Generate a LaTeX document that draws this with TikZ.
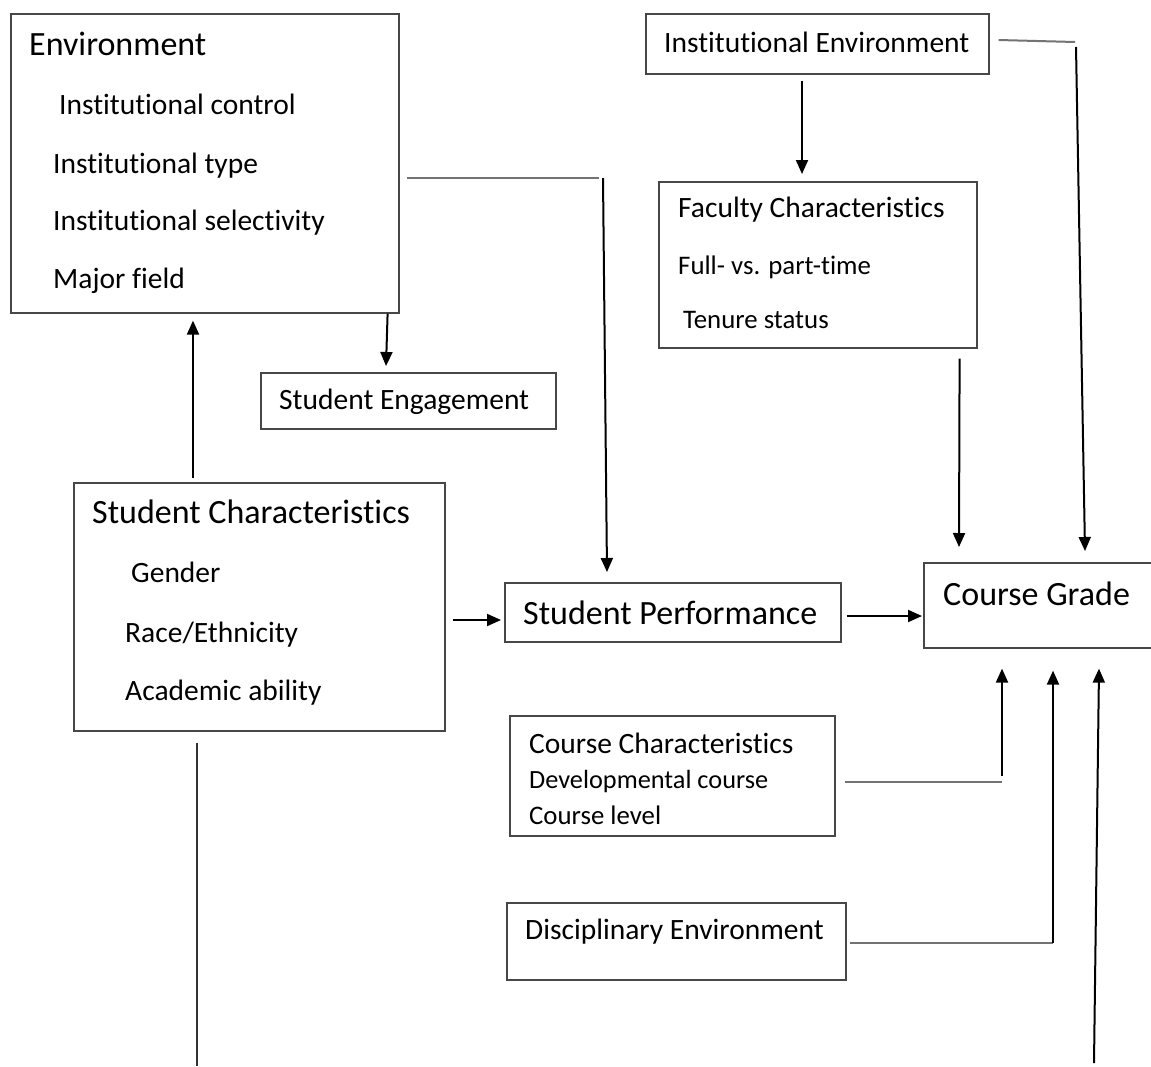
\documentclass[tikz,border=0pt]{standalone}
\usepackage{fontspec}
\setmainfont{Carlito}[Ligatures={NoCommon}]
\usetikzlibrary{arrows.meta,calc}
\begin{document}
\begin{tikzpicture}[x=1pt,y=-1pt,
  boxnode/.style={draw=black!72,line width=1.6pt,rectangle,inner sep=0pt,anchor=north west},
  txt/.style={inner sep=0pt,anchor=base west,font=\fontsize{29.5}{29.5}\selectfont},
  bigtxt/.style={inner sep=0pt,anchor=base west,font=\fontsize{34}{34}\selectfont},
  smtxt/.style={inner sep=0pt,anchor=base west,font=\fontsize{26.8}{26.8}\selectfont},
  gline/.style={draw=black!55,line width=2pt},
  dline/.style={draw=black!80,line width=2pt},
  arr/.style={draw=black,line width=2pt,-{Triangle[width=12pt,length=14pt]}}]
\useasboundingbox (0,0) rectangle (1151,1066);
\clip (0,0) rectangle (1151,1066);
\fill[white] (0,0) rectangle (1151,1066);

% boxes
\node[boxnode,minimum width=388pt,minimum height=299pt] (env) at (10,13) {};
\node[boxnode,minimum width=295pt,minimum height=56pt] (eng) at (260,372) {};
\node[boxnode,minimum width=343pt,minimum height=60pt] (ie) at (645,13) {};
\node[boxnode,minimum width=318pt,minimum height=166pt] (fac) at (658,181) {};
\node[boxnode,minimum width=371pt,minimum height=248pt] (sch) at (73,482) {};
\node[boxnode,minimum width=336pt,minimum height=59pt] (sp) at (504,582) {};
\node[boxnode,minimum width=250pt,minimum height=85pt] (cg) at (923,562) {};
\node[boxnode,minimum width=325pt,minimum height=120pt] (cc) at (509,715) {};
\node[boxnode,minimum width=339pt,minimum height=77pt] (de) at (506,902) {};

% texts
\node[bigtxt] (t1) at (29,55) {Environment};
\node[txt] (t2) at (59,114) {Institutional control};
\node[txt] (t3) at (53,173) {Institutional type};
\node[txt] (t4) at (53,230) {Institutional selectivity};
\node[txt] (t5) at (53,288) {Major field};
\node[txt] (t6) at (279,409) {Student Engagement};
\node[txt] (t7) at (664,52) {Institutional Environment};
\node[txt] (t8) at (678,217) {Faculty Characteristics};
\node[smtxt] (t9) at (678,274) {Full- vs. part-time};
\node[smtxt] (t10) at (683,328) {Tenure status};
\node[bigtxt] (t11) at (92,523) {Student Characteristics};
\node[txt] (t12) at (131,582) {Gender};
\node[txt] (t13) at (125,642) {Race/Ethnicity};
\node[txt] (t14) at (125,700) {Academic ability};
\node[bigtxt] (t15) at (523,624) {Student Performance};
\node[bigtxt] (t16) at (943,605) {Course Grade};
\node[txt] (t17) at (529,753) {Course Characteristics};
\node[smtxt,font=\fontsize{26.3}{26.3}\selectfont] (t18) at (529,788) {Developmental course};
\node[smtxt] (t19) at (529,824) {Course level};
\node[txt] (t20) at (525,939) {Disciplinary Environment};

% junction coordinates
\coordinate (j1) at (599,178);
\coordinate (j2) at (1075,42);
\coordinate (j3) at (1002,782);
\coordinate (j4) at (1053,943);
\coordinate (b1) at (197,1066);
\coordinate (b2) at (1094,1063);

% connectors
\draw[arr] ($(sch.north west)+(120,-4)$) -- ($(env.south west)+(183,7)$);
\draw[arr] ($(env.south east)+(-12,0)$) -- ($(eng.north west)+(126,-6)$);
\draw[gline] ($(env.north east)+(7,165)$) -- (j1);
\draw[arr] ($(j1)+(4,0)$) -- ($(sp.north west)+(103,-10)$);
\draw[arr] ($(ie.south west)+(157,6)$) -- ($(fac.north west)+(144,-7)$);
\draw[gline] ($(ie.north east)+(9,27)$) -- (j2);
\draw[arr] ($(j2)+(1,5)$) -- ($(cg.north west)+(162,-11)$);
\draw[arr] ($(fac.south east)+(-18,10)$) -- ($(cg.north west)+(36,-15)$);
\draw[arr] ($(sch.north east)+(7,138)$) -- ($(sp.north west)+(-3,38)$);
\draw[arr] ($(sp.north east)+(5,34)$) -- ($(cg.north west)+(-1,54)$);
\draw[gline] ($(cc.north east)+(9,67)$) -- (j3);
\draw[arr] ($(j3)+(0,-6)$) -- ($(cg.south west)+(79,20)$);
\draw[gline] ($(de.north east)+(3,41)$) -- (j4);
\draw[arr] (j4) -- ($(cg.south west)+(130,22)$);
\draw[arr] (b2) -- ($(cg.south west)+(176,20)$);
\draw[dline] ($(sch.south west)+(124,11)$) -- (b1);
\end{tikzpicture}
\end{document}
